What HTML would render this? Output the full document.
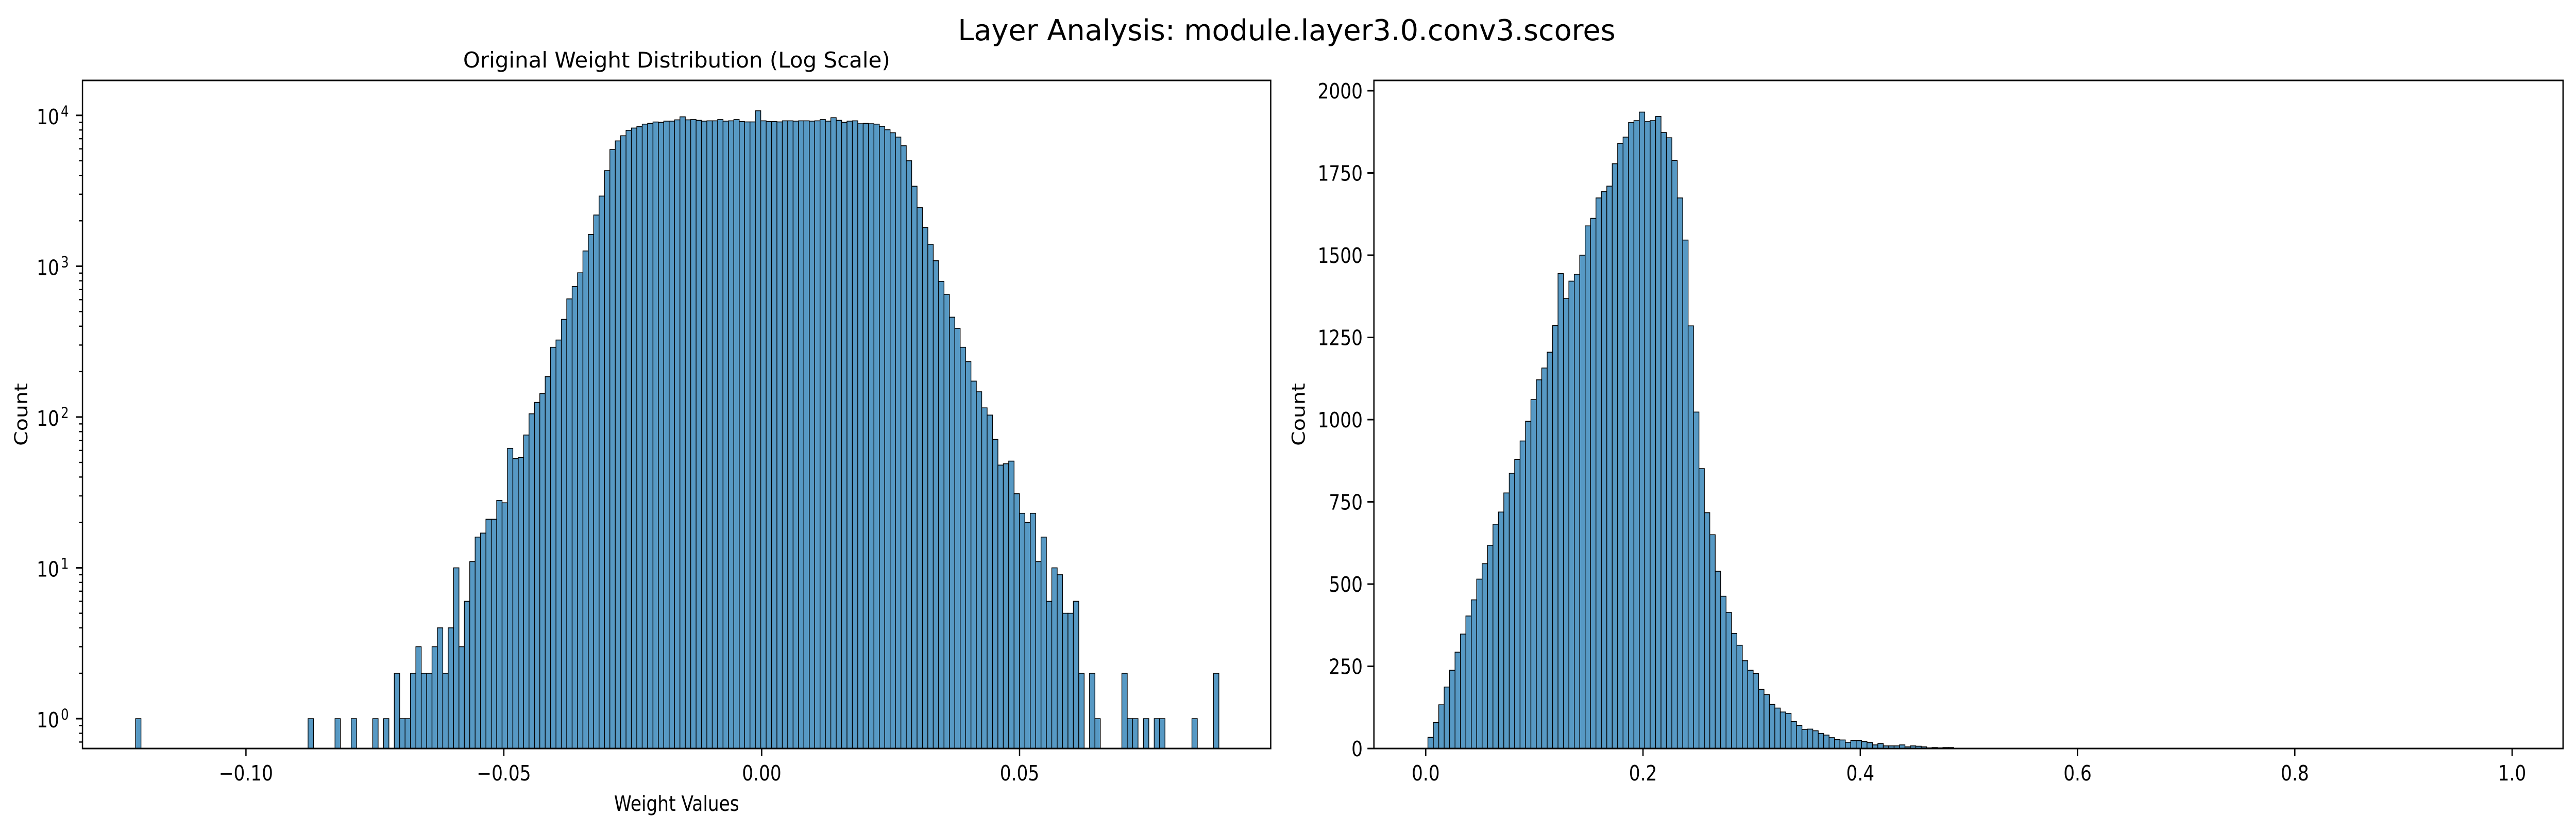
<!DOCTYPE html>
<html><head><meta charset="utf-8"><style>
html,body{margin:0;padding:0;background:#fff;width:100%;height:100%;overflow:hidden;}
svg{display:block;width:100vw;height:100vh;font-family:"DejaVu Sans","Liberation Sans",sans-serif;}
</style></head><body>
<svg id="fig" viewBox="0 0 5966 1612" preserveAspectRatio="none" xmlns="http://www.w3.org/2000/svg">
<rect width="5966" height="1612" fill="#fff"/>
<text x="2980" y="78" font-size="56" text-anchor="middle" textLength="1523" lengthAdjust="spacingAndGlyphs">Layer Analysis: module.layer3.0.conv3.scores</text>
<text x="1567" y="131" font-size="42" text-anchor="middle" textLength="989" lengthAdjust="spacingAndGlyphs">Original Weight Distribution (Log Scale)</text>
<g id="left"></g>
<g id="right"></g>
</svg>
<script>
// Left chart data (log-scale histogram of weights)
const leftBinStart = -0.1214;
const leftBinWidth = 0.001045;
const leftCounts = [
1,0,0,0,0,0,0,0,0,0, 0,0,0,0,0,0,0,0,0,0, 0,0,0,0,0,0,0,0,0,0,
0,0,1,0,0,0,0,1,0,0, 1,0,0,0,1,0,1,0,2,1, 1,2,3,2,2,3,4,2,4,10,
3,6,11,16,17,21,21,28,27,62, 53,54,76,105,125,143,185,290,324,444,
607,733,904,1262,1623,2184,2917,4300,5937,6770, 7325,7960,8240,8410,8750,8850,9040,9000,9160,9160,
9340,9780,9340,9380,9270,9160,9200,9200,9380,9160, 9200,9380,9100,9050,9050,10720,9200,9100,9100,9050,
9200,9200,9160,9200,9200,9160,9200,9380,9160,9650, 9270,9000,9160,9200,8800,8850,8800,8750,8460,8030,
7670,7180,6290,5000,3390,2443,1804,1397,1087,793, 651,459,387,290,233,173,147,115,103,71,
48,49,51,31,23,20,23,11,16,6, 10,9,5,5,6,2,0,2,1,0,
0,0,0,2,1,1,0,1,0,1, 1,0,0,0,0,0,1,0,0,0, 2];
const leftXTicks = [-0.10, -0.05, 0.00, 0.05];
const leftXTickLabels = ["\u22120.10", "\u22120.05", "0.00", "0.05"];
const leftYDecades = [0, 1, 2, 3, 4];

// Right chart data (scores histogram)
const rightBinStart = 0.002;
const rightBinWidth = 0.00499;
const rightCounts = [
34,79,133,187,238,293,348,403,452,515, 562,618,682,719,777,837,879,935,995,1061,
1121,1157,1205,1286,1444,1368,1421,1442,1500,1589, 1612,1674,1693,1710,1778,1840,1859,1903,1909,1935,
1906,1909,1922,1873,1857,1788,1674,1546,1285,1023, 851,717,650,539,463,414,350,314,267,238,
228,180,164,134,123,111,107,82,70,58, 59,54,46,41,33,27,26,19,24,24,
21,18,11,15,8,8,8,11,5,8, 7,5,2,3,2,3,3,1,1];
const rightXTicks = [0.0, 0.2, 0.4, 0.6, 0.8, 1.0];
const rightXTickLabels = ["0.0", "0.2", "0.4", "0.6", "0.8", "1.0"];
const rightYTicks = [0, 250, 500, 750, 1000, 1250, 1500, 1750, 2000];

const NS = "http://www.w3.org/2000/svg";
function mk(parent, tag, attrs) {
  const e = document.createElementNS(NS, tag);
  for (const k in attrs) e.setAttribute(k, attrs[k]);
  parent.appendChild(e);
  return e;
}
const FILL = "#5799c4";
const AX = {top:156, bottom:1452};

// ---------- LEFT ----------
(function(){
  const g = document.getElementById('left');
  const L = 191, R = 2943;
  const xmin = -0.1317, xmax = 0.0987;
  const ylogMin = Math.log10(0.634), ylogMax = Math.log10(17050);
  const xs = v => L + (v - xmin) / (xmax - xmin) * (R - L);
  const ys = v => AX.bottom - (Math.log10(v) - ylogMin) / (ylogMax - ylogMin) * (AX.bottom - AX.top);
  leftCounts.forEach((c, i) => {
    if (c <= 0) return;
    const x0 = xs(leftBinStart + i * leftBinWidth), x1 = xs(leftBinStart + (i + 1) * leftBinWidth);
    const r = mk(g, 'rect', {x:x0, y:ys(c), width:x1 - x0, height:AX.bottom - ys(c), fill:FILL, stroke:'#000', 'stroke-width':1.6});
    
    
  });
  const f = mk(g, 'rect', {x:L, y:AX.top, width:R - L, height:AX.bottom - AX.top, fill:'none', stroke:'#000', 'stroke-width':3});
  
  
  leftXTicks.forEach((t, i) => {
    const x = xs(t);
    mk(g, 'line', {x1:x, x2:x, y1:AX.bottom, y2:AX.bottom + 15, stroke:'#000', 'stroke-width':3});
    const tx = mk(g, 'text', {x:x, y:1514, 'font-size':41, 'text-anchor':'middle'});
    tx.textContent = leftXTickLabels[i];
    
    
  });
  leftYDecades.forEach(d => {
    const y = ys(Math.pow(10, d));
    mk(g, 'line', {x1:L - 15, x2:L, y1:y, y2:y, stroke:'#000', 'stroke-width':3});
    const tx = mk(g, 'text', {x:137, y:y + 17, 'font-size':41, 'text-anchor':'end'});
    tx.textContent = '10';
    
    
    const sp = mk(g, 'text', {x:141, y:y + 2, 'font-size':29});
    sp.textContent = String(d);
    
    
  });
  for (let d = -1; d <= 4; d++) {
    for (let m = 2; m <= 9; m++) {
      const v = m * Math.pow(10, d);
      const lv = Math.log10(v);
      if (lv < ylogMin || lv > ylogMax) continue;
      const y = ys(v);
      mk(g, 'line', {x1:L - 8, x2:L, y1:y, y2:y, stroke:'#000', 'stroke-width':2.4});
    }
  }
  const xl = mk(g, 'text', {x:1567, y:1573, 'font-size':41, 'text-anchor':'middle'});
  xl.textContent = 'Weight Values';
  
  
  const yl = mk(g, 'text', {x:0, y:0, 'font-size':41, 'text-anchor':'middle', transform:'translate(63,804) rotate(-90)'});
  yl.textContent = 'Count';
  
  
})();

// ---------- RIGHT ----------
(function(){
  const g = document.getElementById('right');
  const L = 3182, R = 5936;
  const x0v = 3302, pxPerUnit = 2516;
  const xs = v => x0v + v * pxPerUnit;
  const ymax = 2000 * (AX.bottom - AX.top) / (AX.bottom - 176);
  const ys = v => AX.bottom - v / ymax * (AX.bottom - AX.top);
  rightCounts.forEach((c, i) => {
    if (c <= 0) return;
    const a = xs(rightBinStart + i * rightBinWidth), b = xs(rightBinStart + (i + 1) * rightBinWidth);
    const r = mk(g, 'rect', {x:a, y:ys(c), width:b - a, height:AX.bottom - ys(c), fill:FILL, stroke:'#000', 'stroke-width':1.6});
    
    
  });
  const f = mk(g, 'rect', {x:L, y:AX.top, width:R - L, height:AX.bottom - AX.top, fill:'none', stroke:'#000', 'stroke-width':3});
  
  
  rightXTicks.forEach((t, i) => {
    const x = xs(t);
    mk(g, 'line', {x1:x, x2:x, y1:AX.bottom, y2:AX.bottom + 15, stroke:'#000', 'stroke-width':3});
    const tx = mk(g, 'text', {x:x, y:1514, 'font-size':41, 'text-anchor':'middle'});
    tx.textContent = rightXTickLabels[i];
    
    
  });
  rightYTicks.forEach(t => {
    const y = ys(t);
    mk(g, 'line', {x1:L - 15, x2:L, y1:y, y2:y, stroke:'#000', 'stroke-width':3});
    const tx = mk(g, 'text', {x:3156, y:y + 15, 'font-size':41, 'text-anchor':'end'});
    tx.textContent = String(t);
    
    
  });
  const yl = mk(g, 'text', {x:0, y:0, 'font-size':41, 'text-anchor':'middle', transform:'translate(3022,804) rotate(-90)'});
  yl.textContent = 'Count';
  
  
})();
</script>
</body></html>
